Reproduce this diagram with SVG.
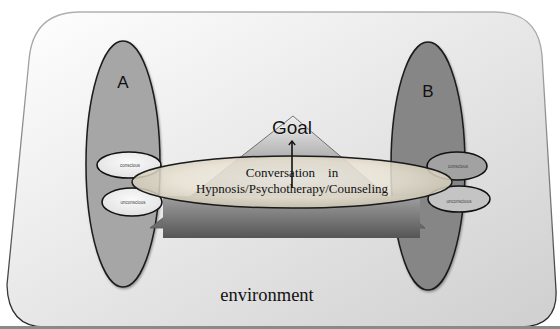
<svg xmlns="http://www.w3.org/2000/svg" width="560" height="329" viewBox="0 0 560 329">
<defs>
<linearGradient id="envFill" x1="0" y1="0" x2="1" y2="1">
<stop offset="0" stop-color="#ffffff"/>
<stop offset="1" stop-color="#cfcfcf"/>
</linearGradient>
<linearGradient id="envStroke" x1="0" y1="0" x2="0" y2="1">
<stop offset="0" stop-color="#b0b0b0"/>
<stop offset="0.6" stop-color="#777"/>
<stop offset="1" stop-color="#222"/>
</linearGradient>
<linearGradient id="triFill" x1="0" y1="0" x2="0" y2="1">
<stop offset="0" stop-color="#f0f0f0"/>
<stop offset="0.5" stop-color="#9a9a9a"/>
<stop offset="1" stop-color="#6a6a6a"/>
</linearGradient>
<linearGradient id="bandFill" x1="0" y1="0" x2="0" y2="1">
<stop offset="0" stop-color="#a0a0a0"/>
<stop offset="1" stop-color="#555"/>
</linearGradient>
<radialGradient id="convFill" cx="0.5" cy="0.45" r="0.6">
<stop offset="0" stop-color="#f4f1ea"/>
<stop offset="0.6" stop-color="#e8e2d2"/>
<stop offset="1" stop-color="#c9c1ad"/>
</radialGradient>
<radialGradient id="smallL" cx="0.5" cy="0.4" r="0.6">
<stop offset="0" stop-color="#fafafa"/>
<stop offset="1" stop-color="#e2e2e2"/>
</radialGradient>
<marker id="arrow" viewBox="0 0 10 10" refX="9" refY="5" markerWidth="8" markerHeight="8" orient="auto" markerUnits="userSpaceOnUse">
<path d="M4,1 L9,5 L4,9" fill="none" stroke="#111" stroke-width="1.6"/>
</marker>
<filter id="shadow" x="-10%" y="-10%" width="120%" height="120%">
<feDropShadow dx="1" dy="1.5" stdDeviation="1" flood-color="#000" flood-opacity="0.35"/>
</filter>
</defs>
<style>
.person{stroke:#1a1a1a;stroke-width:1.5}
.small{stroke:#111;stroke-width:1.6}
.tiny{font-family:"Liberation Sans",Arial,sans-serif;font-size:4.5px;fill:#444;text-anchor:middle}
.sans{font-family:"Liberation Sans",Arial,sans-serif;fill:#111;text-anchor:middle}
.serif{font-family:"Liberation Serif","Times New Roman",serif;fill:#111;text-anchor:middle}
</style>
<rect x="0" y="0" width="560" height="329" fill="#ffffff"/>
<g id="environment">
<path d="M80,12 L495,12 Q538,12 542,55 L556,290 Q558,327 520,327 L45,327 Q8,327 7,285 L29,60 Q33,12 80,12 Z" fill="url(#envFill)" stroke="url(#envStroke)" stroke-width="1.3"/>
<rect x="0" y="326" width="560" height="3" fill="#8a8a8a"/>
<text class="serif" x="267" y="301" font-size="18.5">environment</text>
</g>
<g id="personA">
<ellipse cx="123" cy="164" rx="37" ry="123" fill="#a6a6a6" class="person" filter="url(#shadow)"/>
<text class="sans" x="123" y="88" font-size="17">A</text>
</g>
<g id="personB">
<ellipse cx="428" cy="166" rx="37" ry="124" fill="#868686" class="person" filter="url(#shadow)"/>
<text class="sans" x="428" y="97" font-size="17">B</text>
</g>
<g id="goal">
<polygon points="293,116 150,228 425,228" fill="url(#triFill)" stroke="#555" stroke-width="0.8"/>
<rect x="163" y="196" width="257" height="42" fill="url(#bandFill)"/>
<text class="sans" x="292" y="134" font-size="19" stroke="#fff" stroke-width="0.6" paint-order="stroke">Goal</text>
</g>
<g id="a-conscious">
<ellipse cx="129" cy="165" rx="32" ry="13" fill="url(#smallL)" class="small"/>
<text class="tiny" x="130" y="166.5">conscious</text>
</g>
<g id="a-unconscious">
<ellipse cx="132" cy="202" rx="30" ry="14" fill="url(#smallL)" class="small"/>
<text class="tiny" x="133" y="203.5">unconscious</text>
</g>
<g id="b-conscious">
<ellipse cx="457" cy="166" rx="30" ry="14" fill="#a2a2a2" class="small"/>
<text class="tiny" x="458" y="168">conscious</text>
</g>
<g id="b-unconscious">
<ellipse cx="459" cy="199" rx="31" ry="13" fill="#c4c4c4" class="small"/>
<text class="tiny" x="459" y="203">unconscious</text>
</g>
<g id="conversation">
<ellipse cx="292" cy="182" rx="160" ry="26" fill="url(#convFill)" fill-opacity="0.85" stroke="#1a1a1a" stroke-width="1.5"/>
<text class="serif" x="292" y="177" font-size="13" xml:space="preserve">Conversation    in</text>
<text class="serif" x="292" y="193" font-size="13">Hypnosis/Psychotherapy/Counseling</text>
</g>
<g id="connectors">
<line x1="292" y1="188" x2="292" y2="141" stroke="#111" stroke-width="1.6" marker-end="url(#arrow)"/>
</g>
</svg>
